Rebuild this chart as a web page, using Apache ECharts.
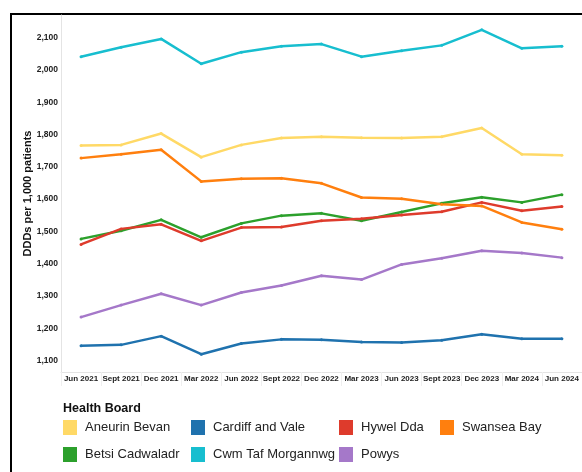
<!DOCTYPE html>
<html>
<head>
<meta charset="utf-8">
<script src="https://cdn.jsdelivr.net/npm/echarts@6/dist/echarts.min.js"></script>
<style>
  html, body { margin: 0; padding: 0; background: #fff; }
  #chart { width: 582px; height: 472px; }
</style>
</head>
<body>
<div id="chart"></div>
<script>
// quarters on the x axis
const quarters = ['Jun 2021', 'Sept 2021', 'Dec 2021', 'Mar 2022', 'Jun 2022', 'Sept 2022', 'Dec 2022',
  'Mar 2023', 'Jun 2023', 'Sept 2023', 'Dec 2023', 'Mar 2024', 'Jun 2024']

// DDDs per 1,000 patients
const aneurinBevan = [1766, 1768, 1803, 1730, 1768, 1789, 1793, 1790, 1789, 1793, 1820, 1739, 1736]
const betsiCadwaladr = [1477, 1502, 1536, 1482, 1525, 1549, 1556, 1533, 1560, 1587, 1606, 1590, 1614]
const cardiffAndVale = [1146, 1149, 1176, 1120, 1153, 1166, 1165, 1158, 1156, 1163, 1182, 1168, 1168]
const cwmTafMorgannwg = [2041, 2070, 2096, 2019, 2055, 2073, 2080, 2041, 2059, 2076, 2124, 2067, 2073]
const hywelDda = [1460, 1508, 1522, 1471, 1512, 1514, 1533, 1539, 1551, 1561, 1590, 1564, 1577]
const powys = [1235, 1272, 1307, 1272, 1311, 1333, 1363, 1351, 1398, 1417, 1440, 1433, 1419]
const swanseaBay = [1727, 1739, 1753, 1655, 1663, 1665, 1649, 1605, 1601, 1584, 1579, 1528, 1507]

const BOARDS = [
  { name: 'Aneurin Bevan', data: aneurinBevan, color: '#FFD966' },
  { name: 'Betsi Cadwaladr', data: betsiCadwaladr, color: '#2CA02C' },
  { name: 'Cardiff and Vale', data: cardiffAndVale, color: '#1F72AE' },
  { name: 'Cwm Taf Morgannwg', data: cwmTafMorgannwg, color: '#17BECF' },
  { name: 'Hywel Dda', data: hywelDda, color: '#DE3B2C' },
  { name: 'Powys', data: powys, color: '#A578C9' },
  { name: 'Swansea Bay', data: swanseaBay, color: '#FF7F0E' },
]

// no narrow font in the sandbox, so plain Liberation Sans at smaller sizes
const SANS = '"Liberation Sans", Arial, sans-serif'
const AXIS_GREY = '#E4E4E4'

// legend columns, as in the picture
const legendCols = [
  { left: 63, names: ['Aneurin Bevan', 'Betsi Cadwaladr'] },
  { left: 191, names: ['Cardiff and Vale', 'Cwm Taf Morgannwg'] },
  { left: 339, names: ['Hywel Dda', 'Powys'] },
  { left: 440, names: ['Swansea Bay'] },
]

const chart = echarts.init(document.getElementById('chart'), null, { renderer: 'canvas' })

const option = {
  animation: false,
  title: {
    text: 'Health Board',
    left: 63,
    top: 402,
    padding: 0,
    textStyle: { fontFamily: SANS, fontSize: 12.5, fontWeight: 'bold', color: '#111' },
  },
  legend: legendCols.map(col => ({
    orient: 'vertical',
    left: col.left,
    top: 420,
    padding: 0,
    itemWidth: 14,
    itemHeight: 15,
    itemGap: 12,
    icon: 'rect',
    data: col.names,
    selectedMode: false,
    textStyle: { fontFamily: SANS, fontSize: 13, color: '#222', padding: [0, 0, 0, 3] },
  })),
  grid: { left: 61, right: 0, top: 15, bottom: 100, containLabel: false },
  xAxis: {
    type: 'category',
    data: quarters,
    boundaryGap: true,
    axisLine: { lineStyle: { color: AXIS_GREY, width: 1 } },
    axisTick: { show: true, length: 14, lineStyle: { color: '#EFEFEF' } },
    axisLabel: {
      interval: 0,
      margin: 3,
      fontFamily: SANS,
      fontSize: 8,
      fontWeight: 'bold',
      color: '#222',
    },
    splitLine: { show: false },
  },
  yAxis: {
    type: 'value',
    min: 1065,
    max: 2170,
    splitNumber: 11,
    name: 'DDDs per 1,000 patients',
    nameLocation: 'middle',
    nameGap: 28,
    nameMoveOverlap: false,
    nameTextStyle: { fontFamily: SANS, fontSize: 11, fontWeight: 'bold', color: '#111' },
    axisLine: { show: true, lineStyle: { color: AXIS_GREY, width: 1 } },
    axisTick: { show: false },
    axisLabel: {
      showMinLabel: false,
      showMaxLabel: false,
      margin: 3,
      fontFamily: SANS,
      fontSize: 8.5,
      fontWeight: 'bold',
      color: '#222',
      formatter: v => (v % 100 === 0 ? v.toLocaleString('en-GB') : ''),
    },
    splitLine: { show: false },
  },
  series: BOARDS.map(b => ({
    name: b.name,
    type: 'line',
    data: b.data,
    color: b.color,
    symbol: 'circle',
    symbolSize: 3,
    lineStyle: { width: 2.5, color: b.color },
    itemStyle: { color: b.color },
  })),
  graphic: [
    {
      type: 'rect',
      shape: { x: 11, y: 14, width: 700, height: 600 },
      style: { fill: null, stroke: '#000', lineWidth: 2 },
      silent: true,
    },
  ],
}

chart.setOption(option)
</script>
</body>
</html>
